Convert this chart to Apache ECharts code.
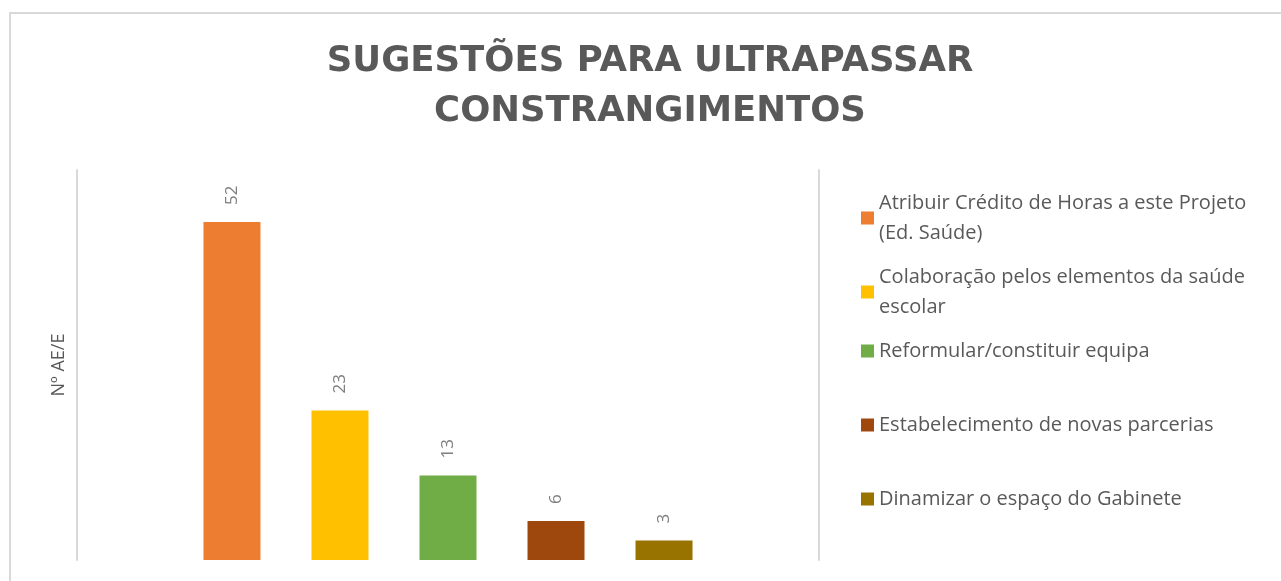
<!DOCTYPE html>
<html>
<head>
<meta charset="utf-8">
<script src="https://cdn.jsdelivr.net/npm/echarts@6/dist/echarts.min.js"></script>
<style>
  html, body { margin: 0; padding: 0; background: #fff; }
  #chart { width: 1281px; height: 581px; }
</style>
</head>
<body>
<div id="chart"></div>
<script>
// dados do gráfico
var categorias = ['Sugestões']
var seriesNomes = [
  'Atribuir Crédito de Horas a este Projeto (Ed. Saúde)',
  'Colaboração pelos elementos da saúde escolar',
  'Reformular/constituir equipa',
  'Estabelecimento de novas parcerias',
  'Dinamizar o espaço do Gabinete'
]
var seriesValores = [52, 23, 13, 6, 3]
var cores = ['#ED7D31', '#FFC000', '#70AD47', '#9E480E', '#997300']
var legendaTopo = [188, 262, 336, 410, 484]

var fonte = '"Open Sans", "Noto Sans", sans-serif'
var chart = echarts.init(document.getElementById('chart'))

var series = seriesNomes.map(function (nome, i) {
  return {
    name: nome,
    type: 'bar',
    data: [seriesValores[i]],
    barWidth: 57,
    barGap: '89.5%',
    itemStyle: { color: cores[i] },
    label: {
      show: true,
      position: 'top',
      distance: 17,
      rotate: 90,
      align: 'left',
      verticalAlign: 'middle',
      color: '#7f7f7f',
      fontFamily: fonte,
      fontSize: 17
    }
  }
})

// uma legenda por item, para manter o espaçamento do original
var legendas = seriesNomes.map(function (nome, i) {
  return {
    data: [nome],
    orient: 'vertical',
    left: 861,
    top: legendaTopo[i],
    padding: 0,
    itemWidth: 13,
    itemHeight: 13,
    icon: 'rect',
    selectedMode: false,
    textStyle: {
      color: '#595959',
      fontFamily: fonte,
      fontSize: 20,
      lineHeight: 30,
      width: 400,
      overflow: 'break'
    }
  }
})

chart.setOption({
  animation: false,
  title: {
    text: 'SUGESTÕES PARA ULTRAPASSAR\nCONSTRANGIMENTOS',
    left: 645,
    top: 32,
    textAlign: 'center',
    textStyle: {
      color: '#595959',
      fontFamily: '"DejaVu Sans", sans-serif',
      fontWeight: 'bold',
      fontSize: 35.5,
      lineHeight: 50
    }
  },
  graphic: [{
    type: 'rect',
    shape: { x: 10, y: 13, width: 1300, height: 600 },
    style: { fill: 'none', stroke: '#d9d9d9', lineWidth: 2 },
    silent: true
  }],
  legend: legendas,
  grid: { left: 77, right: 462, top: 170, bottom: 21 },
  xAxis: {
    type: 'category',
    data: categorias,
    axisLine: { show: false },
    axisTick: { show: false },
    axisLabel: { show: false }
  },
  yAxis: [{
    type: 'value',
    min: 0,
    max: 60,
    name: 'Nº AE/E',
    nameLocation: 'middle',
    nameGap: 9,
    nameTextStyle: { color: '#595959', fontFamily: fonte, fontSize: 18 },
    axisLine: { show: true, lineStyle: { color: '#d9d9d9', width: 2 } },
    axisTick: { show: false },
    axisLabel: { show: false },
    splitLine: { show: false }
  }, {
    type: 'value',
    position: 'right',
    min: 0,
    max: 60,
    axisLine: { show: true, lineStyle: { color: '#d9d9d9', width: 2 } },
    axisTick: { show: false },
    axisLabel: { show: false },
    splitLine: { show: false }
  }],
  series: series
})
</script>
</body>
</html>
